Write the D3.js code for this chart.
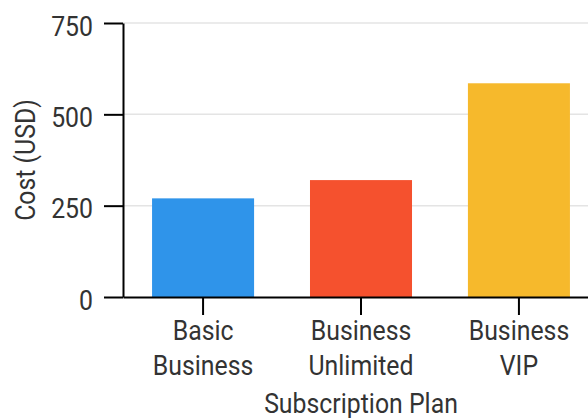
<!DOCTYPE html>
<html>
<head>
<meta charset="utf-8">
<script src="https://cdn.jsdelivr.net/npm/d3@7"></script>
<style>
  body { margin: 0; background: #fff; }
  text { font-family: Roboto, sans-serif; fill: #333; }
</style>
</head>
<body>
<svg id="chart" width="588" height="418"></svg>
<script>
const plans = ['Basic Business', 'Business Unlimited', 'Business VIP']
const costs = [270, 320, 585]
const colors = ['#2f94ea', '#f5512e', '#f6b92c']
const yTicks = [0, 250, 500, 750]

const width = 588, height = 418
const plotLeft = 123, plotRight = 599, plotTop = 23, plotBottom = 297
const squeeze = 0.92 // narrow the glyphs a little, the original uses a condensed face

const svg = d3.select('#chart')

const x = d3.scaleBand()
  .domain(plans)
  .range([plotLeft, plotRight])
  .paddingInner(0.354)
  .paddingOuter(0.184)

const y = d3.scaleLinear()
  .domain([0, 750])
  .range([plotBottom, plotTop])

// grid
svg.append('g')
  .selectAll('line')
  .data(yTicks.filter(d => d > 0))
  .enter()
  .append('line')
  .attr('x1', plotLeft)
  .attr('x2', width)
  .attr('y1', d => y(d))
  .attr('y2', d => y(d))
  .attr('stroke', '#e4e4e4')
  .attr('stroke-width', 1.5)

// bars
svg.append('g')
  .selectAll('rect')
  .data(plans)
  .enter()
  .append('rect')
  .attr('x', d => x(d))
  .attr('y', (d, i) => y(costs[i]))
  .attr('width', x.bandwidth())
  .attr('height', (d, i) => y(0) - y(costs[i]))
  .attr('fill', (d, i) => colors[i])

// y axis
const yAxis = svg.append('g')
  .attr('transform', `translate(${plotLeft},0)`)
  .call(d3.axisLeft(y).tickValues(yTicks).tickSize(19).tickSizeOuter(0).tickPadding(11))

yAxis.selectAll('text')
  .attr('font-size', 27)
  .attr('font-family', 'Roboto, sans-serif')
  .attr('x', -30 / squeeze)
  .attr('dy', '0.45em')
  .attr('transform', `scale(${squeeze},1)`)

// x axis
const xAxis = svg.append('g')
  .attr('transform', `translate(0,${plotBottom})`)
  .call(d3.axisBottom(x).tickSize(18).tickSizeOuter(0).tickPadding(7))

xAxis.selectAll('text').remove()
xAxis.selectAll('.tick')
  .append('text')
  .attr('text-anchor', 'middle')
  .attr('font-size', 27)
  .attr('transform', `scale(${squeeze},1)`)
  .selectAll('tspan')
  .data(d => d.split(' '))
  .enter()
  .append('tspan')
  .attr('x', 0)
  .attr('y', (d, i) => 43 + i * 35)
  .text(d => d)

svg.selectAll('.domain, .tick line')
  .attr('stroke', '#000')
  .attr('stroke-width', 2)

// titles
svg.append('text')
  .attr('transform', `translate(${(plotLeft + plotRight) / 2},413) scale(${squeeze},1)`)
  .attr('text-anchor', 'middle')
  .attr('font-size', 27)
  .text('Subscription Plan')

svg.append('text')
  .attr('transform', `translate(35,${(plotTop + plotBottom) / 2}) rotate(-90) scale(${squeeze},1)`)
  .attr('text-anchor', 'middle')
  .attr('font-size', 27)
  .text('Cost (USD)')
</script>
</body>
</html>
